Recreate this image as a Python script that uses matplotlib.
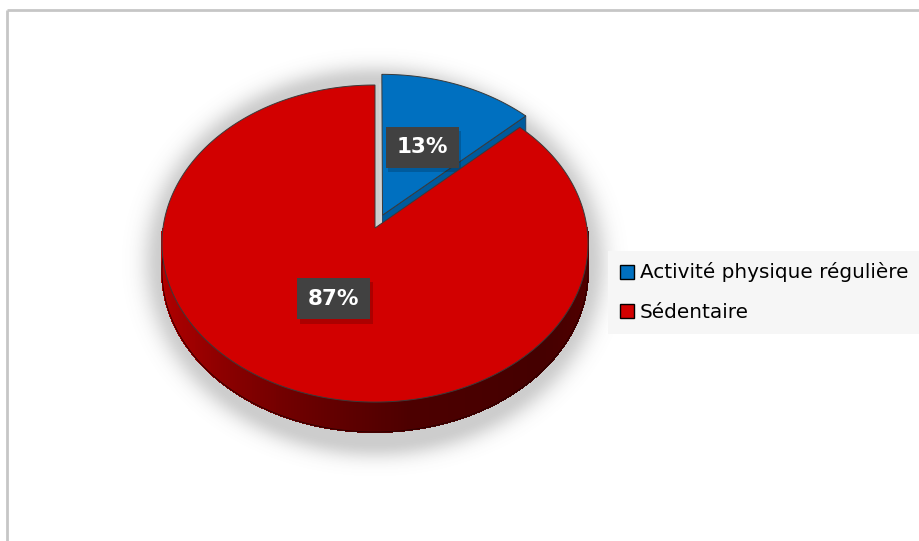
import numpy as np
import matplotlib
matplotlib.use('Agg')
import matplotlib.pyplot as plt
import matplotlib.patheffects as pe
from matplotlib.patches import Polygon, Patch
from matplotlib.collections import PolyCollection

labels = ['Activité physique régulière', 'Sédentaire']
values = [13, 87]
colors = ['#0070c0', '#d20000']
side_colors = ['#005a9c', '#8a0000']
explode = [0.09, 0.0]

# pie geometry in pixels (y grows downwards)
CX, CY = 375., 228.
A, S = 212., 157.
P = 0.098
DEPTH = 27.

def proj(X, Z, low=False):
    w = 1 + P * np.asarray(Z)
    x = CX + A * np.asarray(X) / w
    y = CY - S * np.asarray(Z) / w
    if low:
        y = y + DEPTH / w
    return x, y

fig = plt.figure(figsize=(9.2, 5.41), dpi=100)
ax = fig.add_axes([0, 0, 1, 1])
ax.set_xlim(0, 920)
ax.set_ylim(541, 0)
ax.axis('off')

# frame lines
ax.plot([7.5, 920], [9.5, 9.5], color='#c6c6c6', lw=2, solid_capstyle='butt')
ax.plot([7.5, 7.5], [9.5, 541], color='#c6c6c6', lw=2, solid_capstyle='butt')

# soft shadow under the pie
yy, xx = np.mgrid[0:541, 0:920] + 0.5
r = np.sqrt(((xx - CX) / (A + 2)) ** 2 + ((yy - (CY + 34)) / (S + 24)) ** 2)
dist = (r - 1) * 170
alpha = np.where(dist < 0, 0.30, 0.30 * np.exp(-(dist / 15.) ** 2))
shadow = np.zeros((541, 920, 4))
shadow[..., :3] = 0.35
shadow[..., 3] = alpha
ax.imshow(shadow, extent=(0, 920, 541, 0), zorder=1, interpolation='bilinear')
ax.set_xlim(0, 920)
ax.set_ylim(541, 0)

# slice angles, starting at 12 o'clock going clockwise
frac = np.array(values) / float(sum(values))
starts = 90 - 360 * np.concatenate([[0], np.cumsum(frac)[:-1]])
ends = starts - 360 * frac
mids = (starts + ends) / 2

def wall_shade(th):
    t = ((np.degrees(th) % 360) - 180) / 180.
    return np.interp(t, [0, 0.2, 0.4, 0.55, 0.75, 1.0], [0.74, 0.62, 0.42, 0.3, 0.27, 0.34])

order = np.argsort(-np.sin(np.radians(mids)))
z = 2
for i in order:
    ox = explode[i] * np.cos(np.radians(mids[i]))
    oz = explode[i] * np.sin(np.radians(mids[i]))
    th = np.radians(np.linspace(starts[i], ends[i], 400))
    ex, ez = ox + np.cos(th), oz + np.sin(th)

    top_x, top_y = proj(np.r_[ox, ex], np.r_[oz, ez])
    if explode[i] > 0:
        # shadow cast through the gap
        ax.add_patch(Polygon(np.c_[top_x - 3, top_y + 9], closed=True,
                             fc='#d2d2d2', ec='none', zorder=z))

    # outer wall on the front half
    quads, qcols = [], []
    for k in range(len(th) - 1):
        if np.sin((th[k] + th[k + 1]) / 2) >= 0:
            continue
        x0, y0 = proj(ex[k:k + 2], ez[k:k + 2])
        x1, y1 = proj(ex[k:k + 2], ez[k:k + 2], low=True)
        quads.append([(x0[0], y0[0]), (x0[1], y0[1]), (x1[1], y1[1]), (x1[0], y1[0])])
        if i == 1:
            qcols.append((wall_shade(th[k]), 0, 0))
        else:
            qcols.append(side_colors[i])
    if quads:
        ax.add_collection(PolyCollection(quads, facecolors=qcols, edgecolors=qcols,
                                         linewidths=0.8, antialiased=False, zorder=z + 1))
        # outline of wall
        fx, fz = ex[np.sin(th) < 0], ez[np.sin(th) < 0]
        bx, by = proj(fx, fz, low=True)
        ax.plot(bx, by, color='#2a0000', lw=0.6, zorder=z + 2)

    # radial faces that look towards the viewer
    for ang, sgn in [(starts[i], 1), (ends[i], -1)]:
        a = np.radians(ang)
        if sgn * np.cos(a) < -1e-6 and explode[i] > 0:
            px = [ox, ox + np.cos(a)]
            pz = [oz, oz + np.sin(a)]
            ux, uy = proj(px, pz)
            lx, ly = proj(px, pz, low=True)
            ax.add_patch(Polygon(np.c_[np.r_[ux, lx[::-1]], np.r_[uy, ly[::-1]]],
                                 closed=True, fc=side_colors[i], ec='#1d3b5a',
                                 lw=0.6, zorder=z + 1))

    ax.add_patch(Polygon(np.c_[top_x, top_y], closed=True, fc=colors[i],
                         ec='#3a3a3a', lw=0.7, zorder=z + 3))

    # percentage label, dark box with a faint drop shadow
    lr = 0.5 if explode[i] > 0 else 0.47
    lx, ly = proj(ox + lr * np.cos(np.radians(mids[i])), oz + lr * np.sin(np.radians(mids[i])))
    t = ax.text(lx, ly, '%d%%' % values[i], ha='center', va='center',
                fontsize=15.5, fontweight='bold', color='white',
                bbox=dict(boxstyle='square,pad=0.5', fc='#414141', ec='none'),
                zorder=z + 5)
    t.get_bbox_patch().set_path_effects([
        pe.SimplePatchShadow(offset=(2, -3), shadow_rgbFace='black', alpha=0.18),
        pe.Normal()])
    z += 6

handles = [Patch(facecolor=c, edgecolor='black', lw=1) for c in colors]
leg = ax.legend(handles, labels, loc='center left', bbox_to_anchor=(608 / 920., 1 - 292 / 541.),
                fontsize=14.4, frameon=True, fancybox=False, facecolor='#f6f6f6',
                edgecolor='none', framealpha=1, handlelength=0.7, handleheight=0.7,
                handletextpad=0.3, labelspacing=1.0, borderpad=0.6, borderaxespad=0)
leg.set_zorder(30)

fig.savefig('out.png', dpi=100)
